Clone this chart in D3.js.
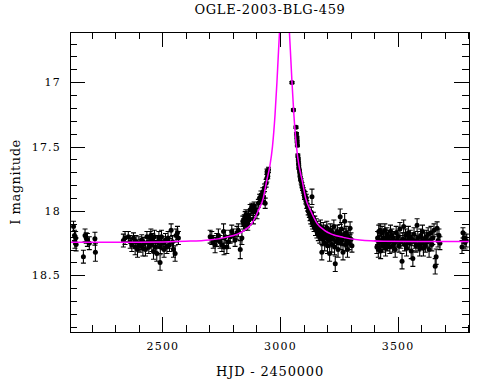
<!DOCTYPE html>
<html>
<head>
<meta charset="utf-8">
<script src="https://cdn.jsdelivr.net/npm/d3@7"></script>
<style>
  body { margin: 0; background: #fff; }
  svg { display: block; }
  text { font-family: "DejaVu Serif", serif; fill: #000; }
</style>
</head>
<body>
<svg id="chart" width="490" height="380"></svg>
<script>
// ===================================================================
// DATA
// each entry: [HJD - 2450000, I magnitude, error]
// ===================================================================
const season1 = [
    [2122, 18.12, 0.04], [2126, 18.19, 0.04], [2128, 18.24, 0.05], [2131, 18.21, 0.05],
    [2133, 18.26, 0.05], [2164, 18.355, 0.05], [2171, 18.19, 0.05], [2176, 18.21, 0.04],
    [2181, 18.225, 0.05], [2189, 18.25, 0.05], [2213, 18.215, 0.05], [2215, 18.32, 0.07]
];

const season2 = [
    [2334, 18.23, 0.05], [2341, 18.21, 0.05], [2355, 18.20, 0.04], [2363, 18.24, 0.05],
    [2370, 18.265, 0.05], [2377, 18.21, 0.04], [2384, 18.28, 0.06], [2388, 18.24, 0.05],
    [2394, 18.30, 0.06], [2400, 18.25, 0.05], [2405, 18.27, 0.05], [2412, 18.225, 0.04],
    [2417, 18.29, 0.06], [2422, 18.255, 0.05], [2428, 18.30, 0.05], [2434, 18.20, 0.04],
    [2438, 18.245, 0.05], [2442, 18.28, 0.05], [2448, 18.21, 0.05], [2451, 18.19, 0.05],
    [2455, 18.265, 0.05], [2459, 18.225, 0.05], [2462, 18.315, 0.06], [2466, 18.20, 0.05],
    [2470, 18.28, 0.05], [2476, 18.33, 0.06], [2480, 18.24, 0.05], [2485, 18.21, 0.05],
    [2490, 18.40, 0.06], [2491, 18.28, 0.05], [2496, 18.20, 0.05], [2502, 18.25, 0.05],
    [2507, 18.30, 0.06], [2513, 18.225, 0.05], [2519, 18.28, 0.05], [2524, 18.21, 0.05],
    [2530, 18.265, 0.05], [2537, 18.15, 0.05], [2543, 18.24, 0.05], [2547, 18.30, 0.06],
    [2554, 18.33, 0.06], [2558, 18.19, 0.05], [2564, 18.17, 0.05], [2568, 18.21, 0.05]
];

const season3Rise = [
    [2703, 18.20, 0.05], [2710, 18.21, 0.05], [2716, 18.24, 0.05], [2724, 18.265, 0.06],
    [2731, 18.225, 0.05], [2738, 18.19, 0.05], [2745, 18.24, 0.05], [2753, 18.265, 0.05],
    [2760, 18.16, 0.06], [2762, 18.28, 0.06], [2767, 18.20, 0.05], [2774, 18.28, 0.05],
    [2781, 18.24, 0.05], [2788, 18.20, 0.05], [2795, 18.16, 0.05], [2802, 18.19, 0.05],
    [2809, 18.225, 0.05], [2817, 18.17, 0.05], [2823, 18.15, 0.05], [2831, 18.30, 0.07],
    [2838, 18.21, 0.05], [2842, 18.08, 0.04], [2845, 18.10, 0.04], [2848, 18.07, 0.04],
    [2850, 18.11, 0.04], [2852, 18.045, 0.04], [2855, 18.03, 0.04], [2856, 18.08, 0.04],
    [2859, 18.055, 0.04], [2861, 18.09, 0.04], [2863, 18.11, 0.04], [2866, 18.04, 0.04],
    [2868, 18.07, 0.04], [2870, 18.06, 0.04], [2873, 17.99, 0.04], [2880, 17.97, 0.03],
    [2885, 18.005, 0.03], [2887, 18.06, 0.04], [2890, 17.96, 0.03], [2894, 17.99, 0.03],
    [2902, 18.02, 0.04], [2908, 17.94, 0.03], [2913, 17.90, 0.03], [2919, 17.875, 0.03],
    [2923, 17.915, 0.03], [2927, 17.85, 0.03], [2930, 17.89, 0.03], [2934, 17.82, 0.03],
    [2937, 17.94, 0.04], [2941, 17.785, 0.03], [2944, 17.745, 0.03], [2945, 17.695, 0.02],
    [2947, 17.71, 0.02], [2948, 17.73, 0.02], [2951, 17.68, 0.02]
];

const season3Fall = [
    [3051, 17.003, 0.008], [3057, 17.215, 0.008], [3068, 17.35, 0.01], [3070, 17.40, 0.01],
    [3072, 17.43, 0.01], [3073, 17.46, 0.01], [3074, 17.49, 0.01], [3076, 17.57, 0.012],
    [3078, 17.60, 0.012], [3079, 17.63, 0.012], [3080, 17.66, 0.015], [3083, 17.69, 0.015],
    [3085, 17.72, 0.015], [3087, 17.75, 0.015], [3090, 17.77, 0.02], [3093, 17.80, 0.02],
    [3096, 17.82, 0.02], [3099, 17.84, 0.02], [3102, 17.86, 0.02], [3104, 17.89, 0.02],
    [3107, 17.88, 0.03], [3110, 17.92, 0.025], [3112, 17.90, 0.03], [3114, 17.95, 0.03],
    [3117, 17.97, 0.03], [3120, 18.00, 0.03], [3125, 18.02, 0.03], [3128, 18.04, 0.035],
    [3131, 18.06, 0.04], [3133, 18.01, 0.04], [3136, 17.89, 0.06], [3137, 18.08, 0.04],
    [3139, 18.10, 0.04], [3142, 18.05, 0.04], [3145, 18.12, 0.04], [3148, 18.09, 0.05],
    [3151, 18.14, 0.05], [3154, 18.11, 0.05], [3157, 18.16, 0.05], [3160, 18.13, 0.05],
    [3163, 18.18, 0.05], [3166, 18.15, 0.05], [3169, 18.20, 0.05], [3172, 18.12, 0.05],
    [3175, 18.17, 0.05], [3178, 18.32, 0.06], [3181, 18.22, 0.05], [3184, 18.14, 0.05],
    [3187, 18.19, 0.05], [3190, 18.25, 0.06], [3193, 18.16, 0.05], [3196, 18.21, 0.05],
    [3199, 18.13, 0.05], [3202, 18.27, 0.06], [3205, 18.18, 0.05], [3208, 18.23, 0.05],
    [3211, 18.33, 0.06], [3214, 18.15, 0.05], [3217, 18.20, 0.05], [3220, 18.26, 0.06],
    [3223, 18.17, 0.05], [3226, 18.22, 0.05], [3229, 18.12, 0.05], [3232, 18.28, 0.06],
    [3235, 18.41, 0.06], [3238, 18.19, 0.05], [3241, 18.24, 0.05], [3244, 18.16, 0.05],
    [3247, 18.30, 0.06], [3250, 18.21, 0.05], [3253, 18.18, 0.05], [3256, 18.045, 0.06],
    [3259, 18.25, 0.05], [3262, 18.14, 0.05], [3265, 18.22, 0.05], [3268, 18.32, 0.06],
    [3271, 18.19, 0.05], [3275, 18.08, 0.06], [3278, 18.26, 0.05], [3281, 18.17, 0.05],
    [3284, 18.23, 0.05], [3287, 18.30, 0.06], [3290, 18.20, 0.05], [3294, 18.25, 0.05],
    [3298, 18.135, 0.05], [3302, 18.22, 0.05], [3306, 18.27, 0.05]
];

const season4 = [
    [3412, 18.28, 0.05], [3415, 18.21, 0.05], [3418, 18.30, 0.06], [3420, 18.16, 0.05],
    [3423, 18.24, 0.05], [3426, 18.15, 0.05], [3428, 18.31, 0.06], [3431, 18.23, 0.05],
    [3434, 18.17, 0.05], [3437, 18.27, 0.05], [3440, 18.21, 0.05], [3443, 18.25, 0.05],
    [3446, 18.15, 0.05], [3449, 18.29, 0.06], [3452, 18.22, 0.05], [3455, 18.18, 0.05],
    [3458, 18.26, 0.05], [3461, 18.20, 0.05], [3464, 18.24, 0.05], [3467, 18.28, 0.05],
    [3470, 18.16, 0.05], [3473, 18.23, 0.05], [3476, 18.19, 0.05], [3479, 18.27, 0.05],
    [3482, 18.21, 0.05], [3486, 18.25, 0.05], [3490, 18.30, 0.06], [3494, 18.17, 0.05],
    [3498, 18.23, 0.05], [3502, 18.20, 0.05], [3506, 18.27, 0.05], [3510, 18.14, 0.05],
    [3514, 18.24, 0.05], [3519, 18.39, 0.06], [3522, 18.22, 0.05], [3526, 18.12, 0.05],
    [3530, 18.26, 0.05], [3534, 18.19, 0.05], [3538, 18.29, 0.06], [3542, 18.23, 0.05],
    [3546, 18.17, 0.05], [3550, 18.25, 0.05], [3554, 18.20, 0.05], [3558, 18.31, 0.06],
    [3562, 18.22, 0.05], [3565, 18.37, 0.06], [3570, 18.18, 0.05], [3574, 18.24, 0.05],
    [3578, 18.27, 0.05], [3583, 18.11, 0.05], [3586, 18.21, 0.05], [3590, 18.26, 0.05],
    [3594, 18.29, 0.06], [3598, 18.19, 0.05], [3602, 18.25, 0.05], [3606, 18.16, 0.05],
    [3610, 18.29, 0.06], [3614, 18.22, 0.05], [3618, 18.27, 0.05], [3622, 18.20, 0.05],
    [3626, 18.24, 0.05], [3630, 18.18, 0.05], [3634, 18.30, 0.06], [3638, 18.23, 0.05],
    [3642, 18.17, 0.05], [3646, 18.26, 0.05], [3650, 18.21, 0.05], [3655, 18.15, 0.05],
    [3660, 18.43, 0.06], [3664, 18.355, 0.06], [3668, 18.135, 0.05], [3672, 18.23, 0.05],
    [3676, 18.19, 0.05], [3680, 18.25, 0.05]
];

const season5 = [
    [3774, 18.28, 0.05], [3778, 18.17, 0.04], [3782, 18.21, 0.04], [3787, 18.245, 0.05],
    [3792, 18.23, 0.05]
];

// magenta model curve, read point by point
const modelHjd = [2107, 2400, 2599, 2699, 2769, 2819, 2849, 2879, 2907, 2929,
                  2944, 2957, 2968, 2979, 2987, 2992, 2998, 3009, 3019, 3029,
                  3040, 3046, 3051, 3059, 3070, 3081, 3094, 3109, 3131, 3159,
                  3189, 3219, 3269, 3339, 3439, 3640, 3808];
const modelMag = [18.243, 18.242, 18.235, 18.225, 18.205, 18.18, 18.15, 18.10, 18.00, 17.90,
                  17.76, 17.65, 17.50, 17.25, 17.00, 16.82, 16.61, 16.40, 16.25, 16.40,
                  16.61, 16.82, 17.00, 17.25, 17.50, 17.65, 17.76, 17.90, 18.00, 18.10,
                  18.15, 18.18, 18.205, 18.225, 18.235, 18.238, 18.238];

const hjdMajor = [2500, 3000, 3500];
const hjdMinor = [2200, 2300, 2400, 2600, 2700, 2800, 2900, 3100, 3200, 3300, 3400, 3600, 3700, 3800];
const magMajor = [17, 17.5, 18, 18.5];
const magMinor = [16.7, 16.8, 16.9, 17.1, 17.2, 17.3, 17.4, 17.6, 17.7, 17.8, 17.9,
                  18.1, 18.2, 18.3, 18.4, 18.6, 18.7, 18.8, 18.9];

const titleText = 'OGLE-2003-BLG-459';
const xTitle = 'HJD - 2450000';
const yTitle = 'I magnitude';
// ===================================================================

const svg = d3.select('#chart');
const frame = { left: 70, right: 470, top: 32, bottom: 332 };

const xScale = d3.scaleLinear()
    .domain([2107, 3808])
    .range([frame.left, frame.right]);

const yScale = d3.scaleLinear()
    .domain([16.61, 18.94])
    .range([frame.top, frame.bottom]);

svg.append('defs').append('clipPath')
    .attr('id', 'plot-clip')
    .append('rect')
    .attr('x', frame.left)
    .attr('y', frame.top)
    .attr('width', frame.right - frame.left)
    .attr('height', frame.bottom - frame.top);

const plot = svg.append('g').attr('clip-path', 'url(#plot-clip)');

// Data points with error bars
const obs = [].concat(season1, season2, season3Rise, season3Fall, season4, season5)
    .map(([t, m, e]) => ({ t, m, e }));

const cap = 2.5;
plot.append('g')
    .selectAll('path')
    .data(obs)
    .join('path')
    .attr('d', d => {
        const px = xScale(d.t);
        const y1 = yScale(d.m - d.e);
        const y2 = yScale(d.m + d.e);
        return `M${px},${y1}V${y2}M${px - cap},${y1}H${px + cap}M${px - cap},${y2}H${px + cap}`;
    })
    .attr('fill', 'none')
    .attr('stroke', '#000')
    .attr('stroke-width', 1.1);

plot.append('g')
    .selectAll('circle')
    .data(obs)
    .join('circle')
    .attr('cx', d => xScale(d.t))
    .attr('cy', d => yScale(d.m))
    .attr('r', 2.5)
    .attr('fill', '#000');

// Model curve
const model = modelHjd.map((t, i) => ({ t, m: modelMag[i] }));
const line = d3.line()
    .x(d => xScale(d.t))
    .y(d => yScale(d.m))
    .curve(d3.curveMonotoneX);

plot.append('path')
    .datum(model)
    .attr('d', line)
    .attr('fill', 'none')
    .attr('stroke', '#ff00ff')
    .attr('stroke-width', 1.5);

// Frame
svg.append('rect')
    .attr('x', frame.left + 0.5)
    .attr('y', frame.top + 0.5)
    .attr('width', frame.right - frame.left - 1)
    .attr('height', frame.bottom - frame.top)
    .attr('fill', 'none')
    .attr('stroke', '#000')
    .attr('shape-rendering', 'crispEdges');

// Axes - ticks point inward on all four sides
function styleAxis(g) {
    g.select('.domain').remove();
    g.attr('shape-rendering', 'crispEdges')
        .attr('font-family', '"DejaVu Serif", serif');
    g.selectAll('text').attr('fill', '#000');
}

const axes = [
    [d3.axisBottom, frame.bottom, 'x'], [d3.axisTop, frame.top, 'x'],
    [d3.axisLeft, frame.left, 'y'], [d3.axisRight, frame.right - 1, 'y']
];

axes.forEach(([make, pos, dim]) => {
    const scale = dim === 'x' ? xScale : yScale;
    const major = dim === 'x' ? hjdMajor : magMajor;
    const minor = dim === 'x' ? hjdMinor : magMinor;
    const tf = dim === 'x' ? `translate(0,${pos})` : `translate(${pos},0)`;

    svg.append('g')
        .attr('transform', tf)
        .call(make(scale).tickValues(minor).tickSize(-7).tickSizeOuter(0).tickFormat(''))
        .call(styleAxis);

    const labelled = make === d3.axisBottom || make === d3.axisLeft;
    svg.append('g')
        .attr('transform', tf)
        .call(make(scale).tickValues(major).tickSize(-15).tickSizeOuter(0)
            .tickPadding(dim === 'x' ? 10 : 9)
            .tickFormat(labelled ? (d => String(d)) : ''))
        .call(styleAxis)
        .call(g => g.selectAll('text')
            .attr('font-size', 11)
            .attr('letter-spacing', 1.2));
});

// Titles
svg.append('text')
    .attr('x', (frame.left + frame.right) / 2)
    .attr('y', 14)
    .attr('text-anchor', 'middle')
    .attr('font-size', 13)
    .attr('letter-spacing', 0.7)
    .text(titleText);

svg.append('text')
    .attr('x', (frame.left + frame.right) / 2)
    .attr('y', 376)
    .attr('text-anchor', 'middle')
    .attr('font-size', 13)
    .attr('letter-spacing', 0.8)
    .text(xTitle);

svg.append('text')
    .attr('transform', 'rotate(-90)')
    .attr('x', -182)
    .attr('y', 20)
    .attr('text-anchor', 'middle')
    .attr('font-size', 13)
    .attr('letter-spacing', 0.5)
    .text(yTitle);
</script>
</body>
</html>
